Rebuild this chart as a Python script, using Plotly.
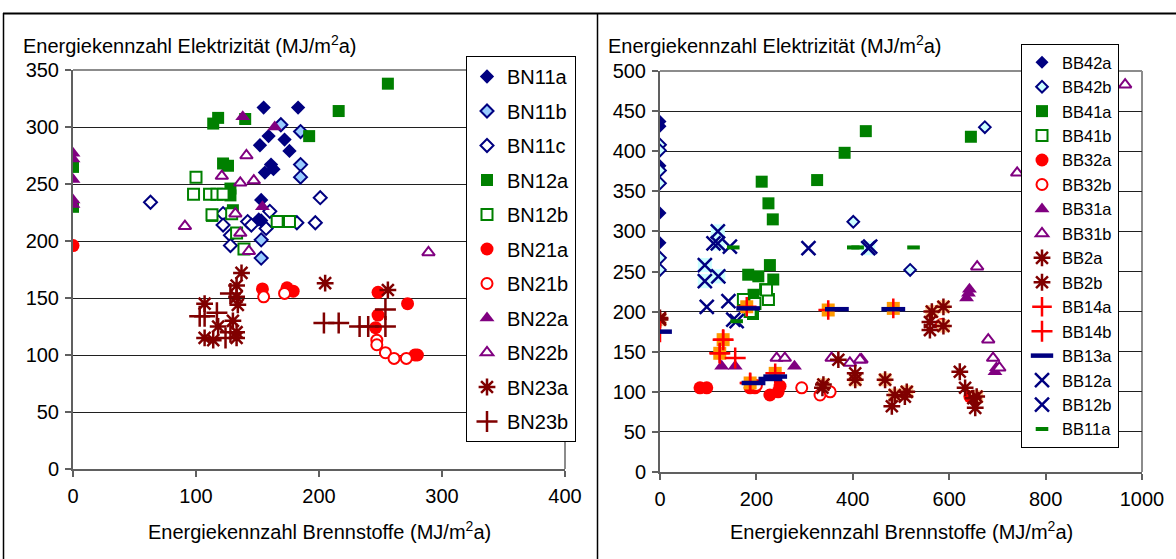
import plotly.graph_objects as go

# ---------------- Left chart data (BN series) ----------------
bn11a_x = [155, 183, 159, 152, 172, 176, 161, 156, 163, 153, 153, 151]
bn11a_y = [317, 317, 292, 284, 289, 279, 267, 260, 263, 236, 218, 219]
bn11b_x = [169, 185, 185, 185, 153, 153]
bn11b_y = [302, 296, 267, 256, 201, 185]
bn11c_x = [63, 201, 197, 182, 122, 122, 128, 128, 142, 145, 157, 160]
bn11c_y = [234, 238, 216, 216, 224, 214, 205, 196, 217, 214, 211, 226]
bn12a_x = [0, 0, 114, 118, 140, 122, 126, 192, 128, 128, 113, 130, 256, 216]
bn12a_y = [265, 230, 303, 308, 307, 268, 266, 292, 246, 240, 222, 227, 338, 314]
bn12b_x = [100, 98, 111, 117, 122, 133, 139, 166, 176, 113, 129]
bn12b_y = [256, 241, 241, 241, 241, 207, 193, 217, 217, 223, 224]
bn21a_x = [0, 154, 174, 179, 248, 272, 248, 246, 278, 280]
bn21a_y = [196, 158, 159, 156, 155, 145, 135, 124, 100, 100]
bn21b_x = [155, 172, 247, 247, 254, 261, 271]
bn21b_y = [151, 154, 113, 109, 102, 97, 97]
bn22a_x = [0, 0, 0, 0, 0, 138, 164, 154]
bn22a_y = [277, 272, 254, 236, 232, 309, 300, 230]
bn22b_x = [141, 121, 136, 147, 91, 132, 136, 143, 289]
bn22b_y = [275, 257, 251, 253, 213, 224, 207, 191, 190]
bn23a_x = [137, 133, 107, 133, 134, 118, 133, 107, 114, 133, 205, 256, 130]
bn23a_y = [172, 161, 145, 151, 144, 125, 120, 115, 113, 115, 163, 157, 130]
bn23b_x = [128, 107, 117, 124, 204, 216, 233, 240, 254, 254, 103, 128]
bn23b_y = [154, 134, 137, 115, 128, 128, 125, 125, 125, 140, 134, 120]

# ---------------- Right chart data (BB series) ----------------
bb42a_x = [0, 0, 0, 0, 0]
bb42a_y = [437, 431, 382, 323, 286]
bb42b_x = [0, 0, 0, 0, 0, 0, 401, 674, 519]
bb42b_y = [408, 401, 376, 360, 267, 252, 312, 430, 252]
bb41a_x = [211, 225, 234, 326, 383, 427, 645, 228, 183, 204, 235, 218, 194, 193]
bb41a_y = [362, 335, 315, 364, 398, 425, 418, 258, 246, 244, 240, 228, 221, 197]
bb41b_x = [173, 225, 187, 221, 197]
bb41b_y = [215, 215, 200, 227, 210]
bb32a_x = [83, 97, 187, 197, 228, 245, 249, 584, 643]
bb32a_y = [105, 105, 105, 105, 96, 100, 107, 184, 94]
bb32b_x = [294, 332, 353, 200]
bb32b_y = [105, 96, 100, 108]
bb31a_x = [128, 156, 279, 640, 642, 636, 695, 698]
bb31a_y = [132, 132, 132, 223, 228, 217, 125, 130]
bb31b_x = [965, 741, 658, 681, 691, 704, 418, 242, 259, 356, 394, 415]
bb31b_y = [483, 373, 256, 165, 142, 130, 140, 142, 142, 142, 136, 140]
bb2a_x = [0, 339, 405, 467, 487, 512, 564, 588, 588, 657]
bb2a_y = [190, 109, 115, 115, 96, 100, 200, 206, 182, 94]
bb2b_x = [481, 508, 560, 560, 622, 633, 654, 650, 370, 405, 337, 0]
bb2b_y = [82, 94, 177, 187, 125, 105, 80, 92, 140, 123, 105, 192]
bb14a_x = [349, 187, 239, 131, 124, 180, 484]
bb14a_y = [202, 111, 123, 165, 148, 206, 204]
bb14b_x = [131, 124, 156, 0, 187]
bb14b_y = [165, 148, 142, 175, 111]
bb13a_x = [0, 183, 194, 239, 367, 484, 229]
bb13a_y = [175, 204, 111, 119, 203, 203, 116]
bb12a_x = [120, 120, 93, 93, 121, 432]
bb12a_y = [300, 285, 258, 238, 244, 279]
bb12b_x = [111, 145, 308, 97, 142, 159, 152, 436]
bb12b_y = [285, 281, 279, 206, 213, 188, 190, 281]
bb11a_x = [152, 401, 526, 159, 410]
bb11a_y = [280, 280, 280, 188, 280]

x_ticks_left = [0, 100, 200, 300, 400]
y_ticks_left = [0, 50, 100, 150, 200, 250, 300, 350]
x_ticks_right = [0, 200, 400, 600, 800, 1000]
y_ticks_right = [0, 50, 100, 150, 200, 250, 300, 350, 400, 450, 500]

NAVY = "#000080"
GREEN = "#008000"
RED = "#FF0000"
PURPLE = "#800080"
DRED = "#800000"
LBLUE = "#99CCFF"
LCYAN = "#CCFFFF"
PEACH = "#FFCC99"
ORANGE = "#FF9900"
FONT = "Liberation Sans, Arial, sans-serif"

W, H = 1176, 559

fig = go.Figure()


def add(x, y, name, symbol, color, size, line_color=None, line_w=0, axes=("x", "y"),
        legend="legend", show=True, group=None):
    fig.add_trace(go.Scatter(
        x=x, y=y, mode="markers", name=name,
        xaxis=axes[0], yaxis=axes[1], legend=legend, showlegend=show,
        legendgroup=group if group else name,
        marker=dict(symbol=symbol, color=color, size=size,
                    line=dict(color=line_color if line_color else color, width=line_w)),
        hoverinfo="x+y+name"))


L = ("x", "y")
R = ("x2", "y2")
# left series
add(bn11a_x, bn11a_y, "BN11a", "diamond", NAVY, 11, NAVY, 0, L)
add(bn11b_x, bn11b_y, "BN11b", "diamond", LBLUE, 10, NAVY, 2, L)
add(bn11c_x, bn11c_y, "BN11c", "diamond", "white", 10, NAVY, 2, L)
add(bn12a_x, bn12a_y, "BN12a", "square", GREEN, 12, GREEN, 0, L)
add(bn12b_x, bn12b_y, "BN12b", "square", "white", 11, GREEN, 2, L)
add(bn21a_x, bn21a_y, "BN21a", "circle", RED, 13, RED, 0, L)
add(bn21b_x, bn21b_y, "BN21b", "circle", "white", 11, RED, 2, L)
add(bn22a_x, bn22a_y, "BN22a", "triangle-up", PURPLE, 13, PURPLE, 0, L)
add(bn22b_x, bn22b_y, "BN22b", "triangle-up", "white", 11, PURPLE, 2, L)
add(bn23a_x, bn23a_y, "BN23a", "asterisk-open", DRED, 14, DRED, 2.5, L)
add(bn23b_x, bn23b_y, "BN23b", "cross-thin-open", DRED, 15, DRED, 2.5, L)

# right series
LG2 = "legend2"
add(bb42a_x, bb42a_y, "BB42a", "diamond", NAVY, 10, NAVY, 0, R, LG2)
add(bb42b_x, bb42b_y, "BB42b", "diamond", LCYAN, 9, NAVY, 2, R, LG2)
add(bb41a_x, bb41a_y, "BB41a", "square", GREEN, 12, GREEN, 0, R, LG2)
add(bb41b_x, bb41b_y, "BB41b", "square", "white", 11, GREEN, 2, R, LG2)
add(bb32a_x, bb32a_y, "BB32a", "circle", RED, 13, RED, 0, R, LG2)
add(bb32b_x, bb32b_y, "BB32b", "circle", "white", 11, RED, 2, R, LG2)
add(bb31a_x, bb31a_y, "BB31a", "triangle-up", PURPLE, 13, PURPLE, 0, R, LG2)
add(bb31b_x, bb31b_y, "BB31b", "triangle-up", "white", 11, PURPLE, 2, R, LG2)
add(bb2a_x, bb2a_y, "BB2a", "square", PEACH, 13, PEACH, 0, R, LG2, show=False, group="BB2a")
add(bb2a_x, bb2a_y, "BB2a", "asterisk-open", DRED, 14, DRED, 2.5, R, LG2, group="BB2a")
add(bb2b_x, bb2b_y, "BB2b", "asterisk-open", DRED, 14, DRED, 2.5, R, LG2)
add(bb14a_x, bb14a_y, "BB14a", "square", ORANGE, 13, ORANGE, 0, R, LG2, show=False, group="BB14a")
add(bb14a_x, bb14a_y, "BB14a", "cross-thin-open", RED, 14, RED, 2.5, R, LG2, group="BB14a")
add(bb14b_x, bb14b_y, "BB14b", "cross-thin-open", RED, 15, RED, 2.5, R, LG2)
add(bb13a_x, bb13a_y, "BB13a", "line-ew-open", NAVY, 17, NAVY, 4.5, R, LG2)
add(bb12a_x, bb12a_y, "BB12a", "square", LCYAN, 14, LCYAN, 0, R, LG2, show=False, group="BB12a")
add(bb12a_x, bb12a_y, "BB12a", "x-thin-open", NAVY, 14, NAVY, 2.5, R, LG2, group="BB12a")
add(bb12b_x, bb12b_y, "BB12b", "x-thin-open", NAVY, 14, NAVY, 2.5, R, LG2)
add(bb11a_x, bb11a_y, "BB11a", "line-ew-open", GREEN, 9, GREEN, 4, R, LG2)

# plot-area geometry (pixels)
lx0, lx1, ly0, ly1 = 73, 565, 70, 469
rx0, rx1, ry0, ry1 = 660, 1142, 71, 472


def px(v):
    return v / W


def py(v):
    return 1 - v / H


axis_common = dict(zeroline=False, showline=True, linecolor="#606060", automargin=False,
                   linewidth=2, ticks="outside", ticklen=6, tickwidth=1.5, tickcolor="#606060",
                   tickfont=dict(family=FONT, size=20, color="black"), fixedrange=True)

fig.update_layout(
    template="none",
    width=W, height=H,
    margin=dict(l=0, r=0, t=0, b=0, pad=0, autoexpand=False),
    paper_bgcolor="white", plot_bgcolor="white",
    font=dict(family=FONT, size=20, color="black"),
    xaxis=dict(domain=[px(lx0), px(lx1)], range=[0, 400], tickvals=x_ticks_left,
               showgrid=False, ticklabelstandoff=2, anchor="y", **axis_common),
    yaxis=dict(domain=[py(ly1), py(ly0)], range=[0, 350], tickvals=y_ticks_left,
               showgrid=True, gridcolor="#202020", gridwidth=1, ticklabelstandoff=2,
               anchor="x", **axis_common),
    xaxis2=dict(domain=[px(rx0), px(rx1)], range=[0, 1000], tickvals=x_ticks_right,
                showgrid=False, ticklabelstandoff=2, anchor="y2", **axis_common),
    yaxis2=dict(domain=[py(ry1), py(ry0)], range=[0, 500], tickvals=y_ticks_right,
                showgrid=True, gridcolor="#202020", gridwidth=1, anchor="x2",
                ticklabelstandoff=2, **axis_common),
    legend=dict(x=px(466), y=py(56), xanchor="left", yanchor="top",
                bgcolor="white", bordercolor="black", borderwidth=1,
                font=dict(family=FONT, size=20, color="black"),
                tracegroupgap=5.5, itemwidth=30),
    legend2=dict(x=px(1021), y=py(44), xanchor="left", yanchor="top",
                 bgcolor="white", bordercolor="black", borderwidth=1,
                 font=dict(family=FONT, size=16.5, color="black"),
                 tracegroupgap=0, itemwidth=30),
    showlegend=True,
)

shapes = []
# gray plot-area frames (top/right)
for (a, b, c, d) in [(lx0, lx1, ly0, ly1), (rx0, rx1, ry0, ry1)]:
    shapes.append(dict(type="line", xref="paper", yref="paper", x0=px(a), x1=px(b),
                       y0=py(c), y1=py(c), line=dict(color="#8c8c8c", width=2), layer="below"))
    shapes.append(dict(type="line", xref="paper", yref="paper", x0=px(b), x1=px(b),
                       y0=py(c), y1=py(d), line=dict(color="#8c8c8c", width=2), layer="below"))
# outer panel frame lines
shapes.append(dict(type="line", xref="paper", yref="paper", x0=px(3), x1=1, y0=py(13.5), y1=py(13.5),
                   line=dict(color="black", width=2)))
shapes.append(dict(type="line", xref="paper", yref="paper", x0=px(3.5), x1=px(3.5), y0=0, y1=py(13),
                   line=dict(color="black", width=1.5)))
shapes.append(dict(type="line", xref="paper", yref="paper", x0=px(597.5), x1=px(597.5), y0=0, y1=py(13),
                   line=dict(color="black", width=1.5)))
fig.update_layout(shapes=shapes)

ytitle = "Energiekennzahl Elektrizität (MJ/m<sup>2</sup>a)"
xtitle = "Energiekennzahl Brennstoffe (MJ/m<sup>2</sup>a)"
ann = []
ann.append(dict(text=ytitle, xref="paper", yref="paper", x=px(21), y=py(45), xanchor="left",
                yanchor="middle", showarrow=False, font=dict(family=FONT, size=20)))
ann.append(dict(text=ytitle, xref="paper", yref="paper", x=px(606), y=py(45), xanchor="left",
                yanchor="middle", showarrow=False, font=dict(family=FONT, size=20)))
ann.append(dict(text=xtitle, xref="paper", yref="paper", x=px((lx0 + lx1) / 2), y=py(530),
                xanchor="center", yanchor="middle", showarrow=False, font=dict(family=FONT, size=20)))
ann.append(dict(text=xtitle, xref="paper", yref="paper", x=px((rx0 + rx1) / 2), y=py(530),
                xanchor="center", yanchor="middle", showarrow=False, font=dict(family=FONT, size=20)))
fig.update_layout(annotations=ann)

fig.write_html("out.html",
               config={"displayModeBar": False},
               post_script="document.body.style.margin='0px';"
                           "document.body.style.overflow='hidden';")
